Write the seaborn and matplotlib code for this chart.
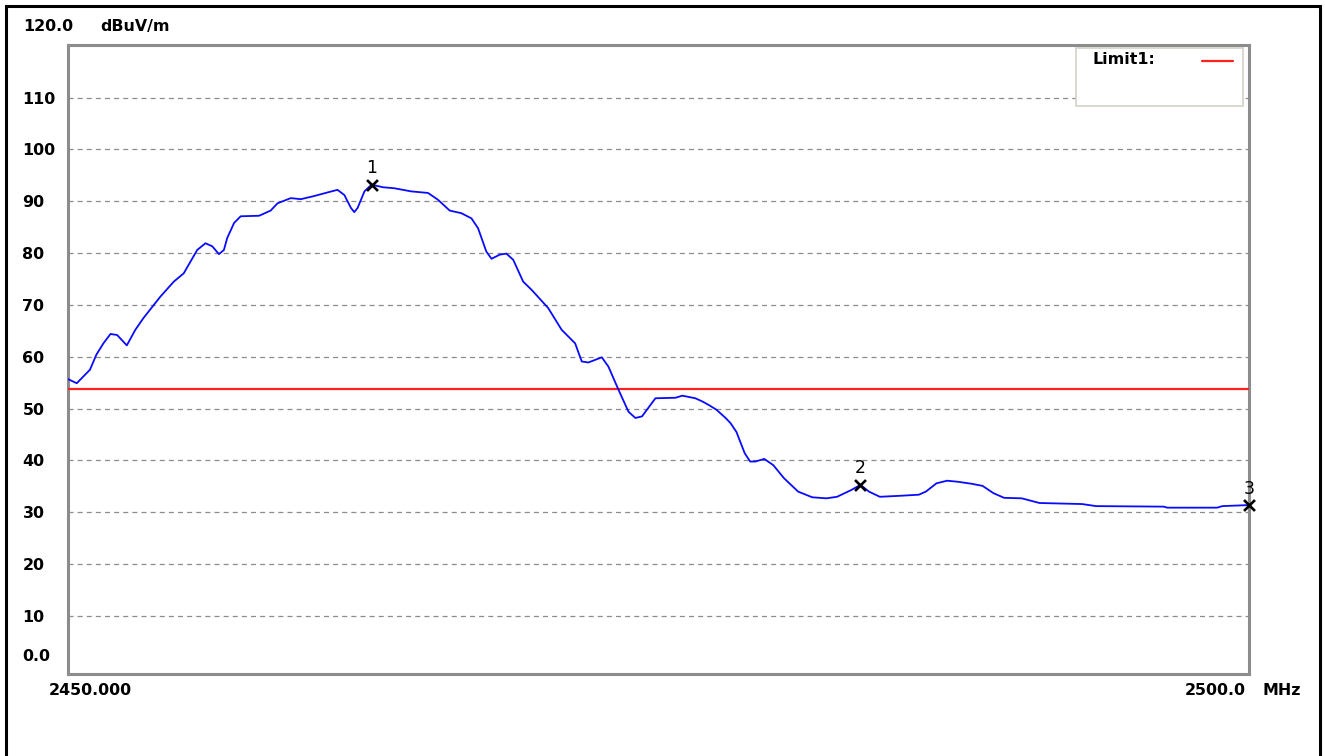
import matplotlib
matplotlib.use("Agg")
import matplotlib.pyplot as plt
from matplotlib.patches import Rectangle
from matplotlib.lines import Line2D
import numpy as np
import pandas as pd
import seaborn as sns

# Measured field strength trace (frequency in MHz, level in dBuV/m)
freq_mhz = [
    2450.00, 2450.37, 2450.93, 2451.20, 2451.50, 2451.80, 2452.08, 2452.49,
    2452.85, 2453.20, 2453.91, 2454.48, 2454.90, 2455.47, 2455.82, 2456.11,
    2456.39, 2456.60, 2456.74, 2457.03, 2457.31, 2458.09, 2458.58, 2458.87,
    2459.43, 2459.86, 2460.42, 2460.99, 2461.41, 2461.70, 2461.98, 2462.12,
    2462.26, 2462.55, 2462.85, 2463.33, 2463.82, 2464.53, 2465.24, 2465.66,
    2466.16, 2466.65, 2467.08, 2467.36, 2467.71, 2467.93, 2468.28, 2468.56,
    2468.85, 2469.27, 2469.63, 2470.33, 2470.90, 2471.47, 2471.75, 2472.03,
    2472.60, 2472.88, 2473.31, 2473.73, 2474.02, 2474.30, 2474.87, 2475.72,
    2476.01, 2476.56, 2476.85, 2477.13, 2477.45, 2477.84, 2478.05, 2478.30,
    2478.65, 2478.88, 2479.10, 2479.48, 2479.86, 2480.31, 2480.91, 2481.51,
    2482.11, 2482.56, 2483.16, 2483.55, 2483.91, 2484.37, 2485.27, 2486.02,
    2486.32, 2486.77, 2487.22, 2487.67, 2488.27, 2488.72, 2489.18, 2489.63,
    2490.38, 2491.13, 2492.93, 2493.53, 2496.39, 2496.54, 2498.65, 2498.87,
    2500.00,
]
level_dbuv = [
    55.7, 54.9, 57.5, 60.4, 62.6, 64.4, 64.2, 62.2,
    65.2, 67.5, 71.6, 74.5, 76.1, 80.6, 81.9, 81.3,
    79.8, 80.6, 82.9, 85.8, 87.1, 87.2, 88.2, 89.6,
    90.6, 90.4, 91.0, 91.7, 92.2, 91.2, 88.7, 87.9,
    88.7, 91.9, 93.2, 92.7, 92.5, 91.9, 91.6, 90.3,
    88.2, 87.7, 86.7, 84.8, 80.3, 78.9, 79.7, 79.9,
    78.7, 74.5, 72.9, 69.4, 65.2, 62.6, 59.1, 58.9,
    59.9, 58.1, 53.6, 49.4, 48.2, 48.5, 52.0, 52.1,
    52.5, 52.0, 51.4, 50.7, 49.8, 48.2, 47.2, 45.5,
    41.4, 39.8, 39.8, 40.3, 39.1, 36.6, 34.0, 32.9,
    32.7, 33.0, 34.3, 35.3, 34.0, 33.0, 33.2, 33.4,
    34.0, 35.6, 36.1, 35.9, 35.5, 35.1, 33.7, 32.8,
    32.7, 31.8, 31.6, 31.2, 31.1, 30.9, 30.9, 31.2,
    31.4,
]

limit_dbuv = 53.8
legend_label = "Limit1:"

marker_freq = [2462.85, 2483.55, 2500.00]
marker_level = [93.2, 35.3, 31.4]
marker_ids = ["1", "2", "3"]

y_ticks = [10, 20, 30, 40, 50, 60, 70, 80, 90, 100, 110]
y_top_label = "120.0"
y_bottom_label = "0.0"
y_unit = "dBuV/m"
x_start_label = "2450.000"
x_stop_label = "2500.0"
x_unit = "MHz"

W, H = 1325, 756
FRAME_GREY = "#8c8c8c"
FS = 11.4

sns.set_style("white")
plt.rcParams["font.family"] = ["DejaVu Sans"]

fig = plt.figure(figsize=(W / 100, H / 100), dpi=100, facecolor="white")
ax = fig.add_axes([68 / W, 1 - 674 / H, (1249 - 68) / W, (674 - 44.5) / H])
ax.set_facecolor("white")

trace = pd.DataFrame({"freq": freq_mhz, "level": level_dbuv})
sns.lineplot(data=trace, x="freq", y="level", ax=ax, color="#0a0aff",
             linewidth=1.3, zorder=4)
ax.axhline(limit_dbuv, color="#ff2020", linewidth=1.6, zorder=3)

peaks = pd.DataFrame({"freq": marker_freq, "level": marker_level})
sns.scatterplot(data=peaks, x="freq", y="level", ax=ax, marker="x", s=62,
                color="black", linewidth=1.9, zorder=6, clip_on=False)
for f, v, mid in zip(marker_freq, marker_level, marker_ids):
    ax.annotate(mid, (f, v), xytext=(0, 11.8), textcoords="offset points",
                ha="center", va="center", fontsize=12.5, color="black",
                annotation_clip=False)

ax.set_xlim(2450, 2500)
ax.set_ylim(-1.18, 120.23)
ax.set_xlabel("")
ax.set_ylabel("")

# Frame and dashed horizontal grid
for s in ax.spines.values():
    s.set_visible(True)
    s.set_color(FRAME_GREY)
    s.set_linewidth(2.2)
ax.set_yticks(y_ticks)
ax.set_yticklabels([str(v) for v in y_ticks], fontsize=FS, fontweight="bold",
                   ha="left")
ax.tick_params(axis="y", length=0, pad=32.8, labelcolor="black")
ax.set_xticks([])
ax.yaxis.grid(True, color=FRAME_GREY, linewidth=0.9, linestyle=(0, (4, 3.3)))
ax.set_axisbelow(True)

# Axis end labels and units
txt = dict(fontsize=FS, fontweight="bold", color="black", va="center",
           annotation_clip=False)
ax.annotate(y_top_label, (2450, 120), xytext=(-32.4, 13.5),
            textcoords="offset points", ha="left", **txt)
ax.annotate(y_unit, (2450, 120), xytext=(23.0, 13.5),
            textcoords="offset points", ha="left", **txt)
ax.annotate(y_bottom_label, (2450, 0), xytext=(-32.6, 8.1),
            textcoords="offset points", ha="left", **txt)
ax.annotate(x_start_label, (2450, -1.18), xytext=(15.8, -11.8),
            textcoords="offset points", ha="center", **txt)
ax.annotate(x_stop_label, (2500, -1.18), xytext=(-24.1, -12.2),
            textcoords="offset points", ha="center", **txt)
ax.annotate(x_unit, (2500, -1.18), xytext=(23.8, -12.2),
            textcoords="offset points", ha="center", **txt)

# Limit legend box
fig.add_artist(Rectangle((1076 / W, 1 - 106 / H), (1243 - 1076) / W, (106 - 48) / H,
                         transform=fig.transFigure, facecolor="white",
                         edgecolor="#d4d0c8", linewidth=1.2, zorder=3))
fig.text(1092 / W, 1 - 60 / H, legend_label, ha="left", va="center",
         fontsize=FS, fontweight="bold", color="black", zorder=4)
fig.add_artist(Line2D([1202 / W, 1233 / W], [1 - 61 / H, 1 - 61 / H],
                      transform=fig.transFigure, color="#ff2020",
                      linewidth=1.6, zorder=4))

# Outer page border
fig.add_artist(Rectangle((5.5 / W, -0.02), (1319.5 - 5.5) / W, 1.02 - 5.5 / H,
                         transform=fig.transFigure, fill=False,
                         edgecolor="black", linewidth=2.2, zorder=10))

fig.savefig("out.png", dpi=100, facecolor="white")
